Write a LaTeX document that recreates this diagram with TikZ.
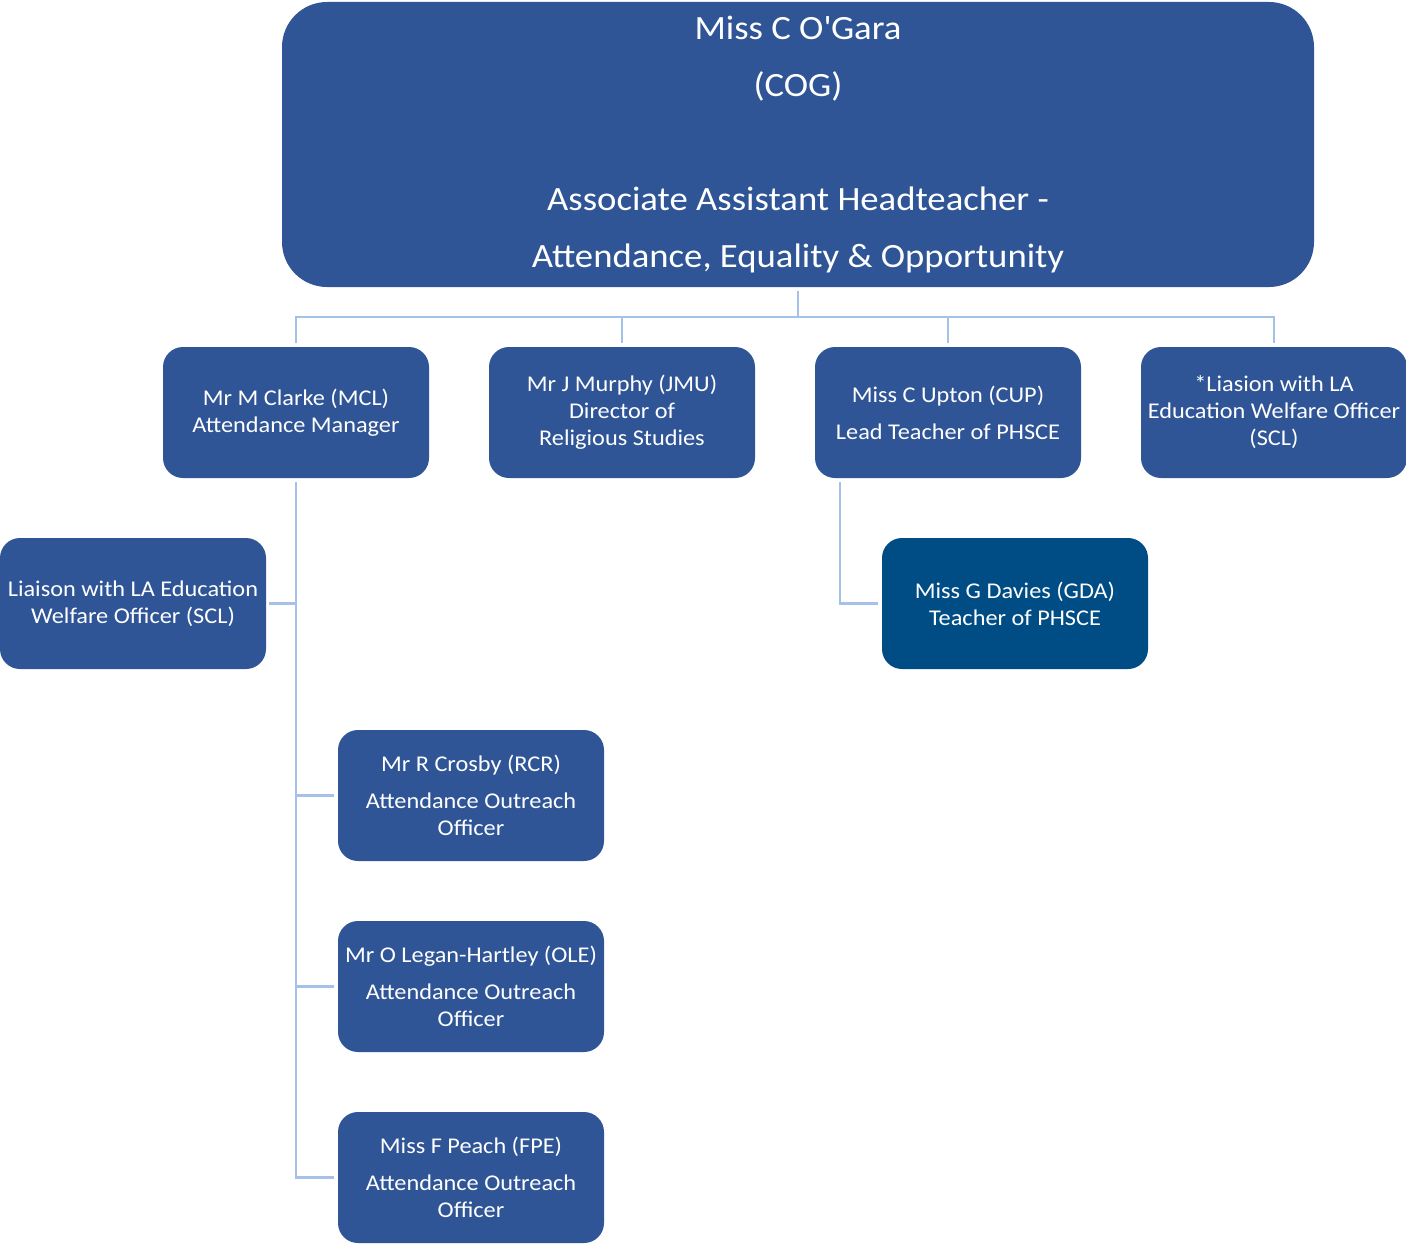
\documentclass[tikz,border=0pt]{standalone}
\usepackage{fontspec}
\setmainfont{Carlito}[FakeStretch=1.08, Ligatures=ResetAll]
\newcommand{\straightquote}{\XeTeXglyph\XeTeXcharglyph"0027\relax}
\definecolor{boxblue}{HTML}{2F5597}
\definecolor{darkblue}{HTML}{004C85}
\definecolor{linkblue}{HTML}{A4C2E8}
\tikzset{
  box/.style={rounded corners=20pt, fill=boxblue, text=white, minimum width=266pt,
    minimum height=131pt, inner sep=0pt, align=center, font=\fontsize{22.5}{27}\selectfont},
  link/.style={draw=linkblue, line width=2.5pt}
}
\begin{document}
\begin{tikzpicture}[x=1pt,y=-1pt]
\useasboundingbox (0,0) rectangle (1406,1244);
\node[box, minimum width=1032pt, minimum height=285pt, rounded corners=45pt,
  font=\fontsize{34}{57}\selectfont] (cog) at (798,144.5)
  {Miss C O\straightquote Gara\\(COG)\\[57pt]Associate Assistant Headteacher -\\Attendance, Equality \& Opportunity};
\node[box] (mcl) at (296,412.5) {Mr M Clarke (MCL)\\Attendance Manager};
\node[box] (jmu) at (622,412.5) {Mr J Murphy (JMU)\\Director of\\Religious Studies};
\node[box] (cup) at (948,412.5) {Miss C Upton (CUP)\\[10pt]Lead Teacher of PHSCE};
\node[box] (scl) at (1274,412.5) {*Liasion with LA\\Education Welfare Officer\\(SCL)};
\node[box] (lia) at (133,603.5) {Liaison with LA Education\\Welfare Officer (SCL)};
\node[box, fill=darkblue] (gda) at (1015,603.5) {Miss G Davies (GDA)\\Teacher of PHSCE};
\node[box] (rcr) at (471,795.5) {Mr R Crosby (RCR)\\[10pt]Attendance Outreach\\Officer};
\node[box] (ole) at (471,986.5) {Mr O Legan-Hartley (OLE)\\[10pt]Attendance Outreach\\Officer};
\node[box] (fpe) at (471,1177.5) {Miss F Peach (FPE)\\[10pt]Attendance Outreach\\Officer};
\coordinate (j) at (798,317);
\coordinate (cupdrop) at (840,482);
\draw[link] ([yshift=-4pt]cog.south) -- (j);
\draw[link] (j) -| ([yshift=4pt]mcl.north);
\draw[link] (j) -| ([yshift=4pt]jmu.north);
\draw[link] (j) -| ([yshift=4pt]cup.north);
\draw[link] (j) -| ([yshift=4pt]scl.north);
\draw[link] ([yshift=-4pt]mcl.south) |- ([xshift=3pt]lia.east);
\draw[link] ([yshift=-4pt]mcl.south) |- ([xshift=-4pt]rcr.west);
\draw[link] ([yshift=-4pt]mcl.south) |- ([xshift=-4pt]ole.west);
\draw[link] ([yshift=-4pt]mcl.south) |- ([xshift=-4pt]fpe.west);
\draw[link] (cupdrop) |- ([xshift=-4pt]gda.west);
\end{tikzpicture}
\end{document}
